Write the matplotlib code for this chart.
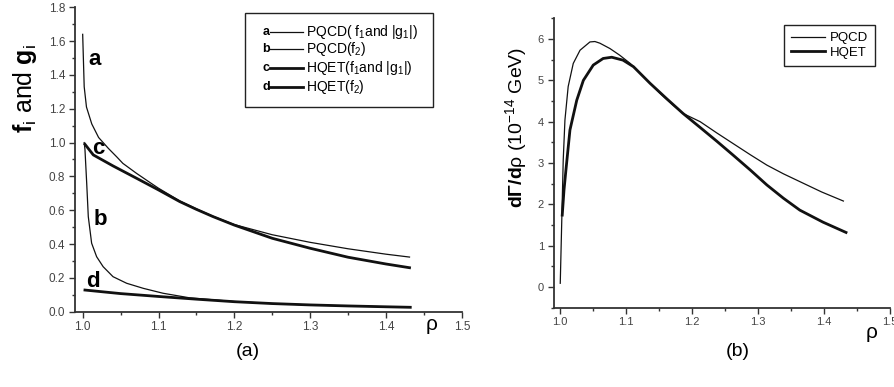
import numpy as np
import matplotlib
matplotlib.use("Agg")
import matplotlib.pyplot as plt
from matplotlib.lines import Line2D
from matplotlib.patches import Rectangle
from matplotlib.ticker import MultipleLocator

plt.rcParams["font.family"] = ["Liberation Sans", "DejaVu Sans"]
plt.rcParams["mathtext.fontset"] = "custom"
plt.rcParams["mathtext.rm"] = "Liberation Sans"
plt.rcParams["mathtext.bf"] = "Liberation Sans:bold"
plt.rcParams["mathtext.it"] = "Liberation Sans:italic"
plt.rcParams["mathtext.sf"] = "Liberation Sans"

# ---------------------------------------------------------
# data
# ---------------------------------------------------------
# (a) form factors
rho_a = [1.000, 1.002, 1.005, 1.012, 1.021, 1.034, 1.045, 1.053, 1.071, 1.089,
         1.100, 1.128, 1.150, 1.172, 1.200, 1.250, 1.300, 1.350, 1.400, 1.431]
pqcd_f1 = [1.64, 1.33, 1.21, 1.11, 1.03, 0.965, 0.915, 0.877, 0.818, 0.763,
           0.73, 0.655, 0.608, 0.564, 0.515, 0.455, 0.410, 0.372, 0.340, 0.323]

rho_b = [1.002, 1.003, 1.0053, 1.0074, 1.0118, 1.0184, 1.027, 1.040, 1.058, 1.080,
         1.106, 1.141, 1.200, 1.250, 1.300, 1.350, 1.400, 1.431]
pqcd_f2 = [1.00, 0.96, 0.76, 0.562, 0.405, 0.325, 0.266, 0.207, 0.168, 0.138,
           0.109, 0.082, 0.060, 0.048, 0.040, 0.034, 0.029, 0.026]

rho_c = [1.003, 1.014, 1.040, 1.071, 1.100, 1.128, 1.150, 1.172, 1.200,
         1.250, 1.300, 1.350, 1.400, 1.431]
hqet_f1 = [0.99, 0.927, 0.862, 0.789, 0.72, 0.651, 0.605, 0.562, 0.512,
           0.434, 0.375, 0.322, 0.282, 0.260]

rho_d = [1.003, 1.050, 1.100, 1.128, 1.150, 1.200, 1.250, 1.300, 1.350, 1.400, 1.432]
hqet_f2 = [0.128, 0.107, 0.090, 0.081, 0.074, 0.059, 0.048, 0.040, 0.034, 0.029, 0.026]

# (b) differential decay width
rho_p = [1.000, 1.0045, 1.0071, 1.012, 1.0197, 1.030, 1.045, 1.0525, 1.060, 1.0753,
         1.090, 1.106, 1.121, 1.136, 1.151, 1.171, 1.186, 1.212, 1.237, 1.262,
         1.288, 1.313, 1.338, 1.363, 1.396, 1.429]
width_pqcd = [0.09, 3.07, 4.04, 4.85, 5.41, 5.73, 5.93, 5.94, 5.90, 5.77,
              5.61, 5.41, 5.17, 4.93, 4.69, 4.40, 4.20, 4.00, 3.73, 3.47,
              3.20, 2.95, 2.74, 2.55, 2.30, 2.08]

rho_h = [1.003, 1.0057, 1.0086, 1.0147, 1.025, 1.035, 1.050, 1.065, 1.078, 1.095,
         1.111, 1.136, 1.161, 1.186, 1.212, 1.237, 1.262, 1.288, 1.313, 1.338,
         1.363, 1.398, 1.433]
width_hqet = [1.74, 2.35, 2.83, 3.80, 4.52, 5.00, 5.37, 5.53, 5.56, 5.49,
              5.33, 4.93, 4.56, 4.20, 3.86, 3.53, 3.19, 2.83, 2.47, 2.15,
              1.86, 1.57, 1.32]

left_labels = ["a", "b", "c", "d"]
left_names = [r"PQCD( f$_1$and |g$_1$|)", r"PQCD(f$_2$)",
              r"HQET(f$_1$and |g$_1$|)", r"HQET(f$_2$)"]

THIN = 0.9
THICK = 2.0
INK = "#111111"
AXC = "#333333"

W, H = 894, 387


def fx(px):
    return px / W


def fy(py):
    return 1 - py / H


def style_axes(ax, size):
    for s in ("top", "right"):
        ax.spines[s].set_visible(False)
    for s in ("left", "bottom"):
        ax.spines[s].set_color(AXC)
        ax.spines[s].set_linewidth(1.3)
    ax.tick_params(which="both", direction="out", color=AXC, width=1.0,
                   labelcolor="#444444", labelsize=size, pad=2.5)
    ax.tick_params(which="major", length=4.5)
    ax.tick_params(which="minor", length=2.5)


fig = plt.figure(figsize=(W / 100, H / 100), dpi=100)

# =========================================================
# panel (a)
# =========================================================
ax1 = fig.add_axes([0.0840, 0.1946, 0.4326, 0.7866])
ax1.plot(rho_a, pqcd_f1, color=INK, lw=THIN)
ax1.plot(rho_b, pqcd_f2, color=INK, lw=THIN)
ax1.plot(rho_c, hqet_f1, color=INK, lw=THICK)
ax1.plot(rho_d, hqet_f2, color=INK, lw=THICK)
ax1.set_xlim(0.99, 1.5)
ax1.set_ylim(0, 1.8)
ax1.xaxis.set_major_locator(MultipleLocator(0.1))
ax1.xaxis.set_minor_locator(MultipleLocator(0.05))
ax1.yaxis.set_major_locator(MultipleLocator(0.2))
ax1.yaxis.set_minor_locator(MultipleLocator(0.1))
ax1.xaxis.set_major_formatter(lambda v, p: f"{v:.1f}")
ax1.yaxis.set_major_formatter(lambda v, p: f"{v:.1f}")
style_axes(ax1, 8.5)

# curve letters
for txt, x, y in [("a", 1.0074, 1.459), ("c", 1.0118, 0.932),
                  ("b", 1.014, 0.513), ("d", 1.0043, 0.148)]:
    ax1.text(x, y, txt, fontsize=16, fontweight="bold", ha="left", va="baseline")

fig.text(fx(25), fy(88), r"$\mathbf{f}_\mathrm{i}$ and $\mathbf{g}_\mathrm{i}$",
         rotation=90, fontsize=18, ha="center", va="center")
fig.text(fx(432), fy(327), r"$\mathrm{\rho}$", fontsize=15, ha="center", va="center")
fig.text(fx(248), fy(352), "(a)", fontsize=14, ha="center", va="center")

# legend box for (a), letters on the left of the line samples
fig.patches.append(Rectangle((fx(245), fy(107.3)), fx(432.7) - fx(245),
                             fy(12.7) - fy(107.3), transform=fig.transFigure,
                             fill=False, edgecolor="#222222", lw=1.0))
rows = [31.7, 49.3, 68.3, 86.7]
widths = [THIN, THIN, THICK, THICK]
for lab, name, py, lw in zip(left_labels, left_names, rows, widths):
    fig.lines.append(Line2D([fx(270), fx(303)], [fy(py), fy(py)],
                            transform=fig.transFigure, color=INK, lw=lw))
    fig.text(fx(266), fy(py), lab, fontsize=9, fontweight="bold",
             ha="center", va="center")
    fig.text(fx(306), fy(py), name, fontsize=10, ha="left", va="center")

# =========================================================
# panel (b)
# =========================================================
ax2 = fig.add_axes([0.6193, 0.2050, 0.3765, 0.7475])
ax2.plot(rho_p, width_pqcd, color=INK, lw=THIN, label="PQCD")
ax2.plot(rho_h, width_hqet, color=INK, lw=THICK, label="HQET")
ax2.set_xlim(0.99, 1.5)
ax2.set_ylim(-0.5, 6.5)
ax2.xaxis.set_major_locator(MultipleLocator(0.1))
ax2.xaxis.set_minor_locator(MultipleLocator(0.05))
ax2.yaxis.set_major_locator(MultipleLocator(1))
ax2.yaxis.set_minor_locator(MultipleLocator(0.5))
ax2.xaxis.set_major_formatter(lambda v, p: f"{v:.1f}")
ax2.yaxis.set_major_formatter(lambda v, p: f"{v:.0f}")
style_axes(ax2, 8)

leg = ax2.legend(loc="upper left", bbox_to_anchor=(fx(784.3), fy(25.3)),
                 bbox_transform=fig.transFigure, fontsize=9.5, handlelength=2.6,
                 handletextpad=0.35, borderpad=0.5, labelspacing=0.2,
                 borderaxespad=0, fancybox=False, framealpha=1)
leg.get_frame().set_edgecolor("#222222")
leg.get_frame().set_linewidth(1.0)

fig.text(fx(516), fy(127),
         r"$\mathbf{d\Gamma/d}\mathrm{\rho}$ (10$^{-14}$ GeV)",
         rotation=90, fontsize=14, ha="center", va="center")
fig.text(fx(872), fy(334), r"$\mathrm{\rho}$", fontsize=15, ha="center", va="center")
fig.text(fx(738), fy(352), "(b)", fontsize=14, ha="center", va="center")

fig.savefig("out.png", dpi=100)
